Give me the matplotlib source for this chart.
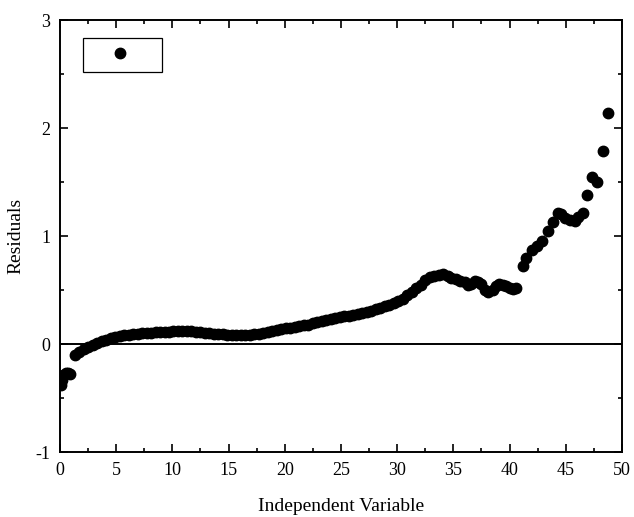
import matplotlib
matplotlib.use("Agg")
import matplotlib.pyplot as plt

plt.rcParams['font.family'] = ['Liberation Serif', 'DejaVu Serif']
plt.rcParams['axes.unicode_minus'] = False

# residuals
x = [0.05, 0.15, 0.3, 0.5, 0.7, 0.9,
     1.3, 1.7, 2.1, 2.5, 2.9, 3.3, 3.7, 4.1, 4.5, 4.9,
     5.3, 5.7, 6.1, 6.5, 6.9, 7.3, 7.7, 8.1, 8.5, 8.9,
     9.3, 9.7, 10.1, 10.5, 10.9, 11.3, 11.7, 12.1, 12.5, 12.9,
     13.3, 13.7, 14.1, 14.5, 14.9, 15.3, 15.7, 16.1, 16.5, 16.9,
     17.3, 17.7, 18.1, 18.5, 18.9, 19.3, 19.7, 20.1, 20.5, 20.9,
     21.3, 21.7, 22.1, 22.5, 22.9, 23.3, 23.7, 24.1, 24.5, 24.9,
     25.3, 25.7, 26.1, 26.5, 26.9, 27.3, 27.7, 28.1, 28.5, 28.9,
     29.3, 29.7, 30.1, 30.5, 30.9, 31.3, 31.7, 32.1, 32.5, 32.9,
     33.3, 33.7, 34.1, 34.5, 34.8, 35.2, 35.6, 36.0, 36.3, 36.6,
     36.9, 37.2, 37.5, 37.8, 38.1, 38.5, 38.8, 39.1, 39.4, 39.7,
     40.0, 40.3, 40.6,
     41.2, 41.5, 42.0, 42.4, 42.9, 43.4, 43.9, 44.3, 44.6, 44.9,
     45.4, 45.8, 46.1, 46.5, 46.9, 47.3, 47.8, 48.3, 48.8]
resid = [-0.38, -0.33, -0.29, -0.27, -0.27, -0.28,
         -0.10, -0.07, -0.05, -0.03, -0.01, 0.01, 0.025, 0.04, 0.055, 0.065,
         0.075, 0.08, 0.085, 0.09, 0.095, 0.10, 0.10, 0.105, 0.11, 0.11,
         0.115, 0.115, 0.12, 0.12, 0.12, 0.12, 0.12, 0.115, 0.11, 0.105,
         0.10, 0.095, 0.09, 0.09, 0.085, 0.085, 0.08, 0.08, 0.08, 0.085,
         0.09, 0.09, 0.10, 0.11, 0.12, 0.13, 0.14, 0.145, 0.15, 0.16,
         0.17, 0.175, 0.18, 0.19, 0.20, 0.21, 0.22, 0.23, 0.24, 0.25,
         0.255, 0.26, 0.27, 0.28, 0.29, 0.30, 0.31, 0.32, 0.335, 0.35,
         0.36, 0.38, 0.40, 0.42, 0.45, 0.48, 0.52, 0.55, 0.59, 0.62,
         0.63, 0.64, 0.65, 0.63, 0.61, 0.60, 0.58, 0.57, 0.55, 0.56,
         0.58, 0.57, 0.56, 0.50, 0.48, 0.50, 0.54, 0.56, 0.55, 0.54,
         0.52, 0.51, 0.52,
         0.72, 0.80, 0.87, 0.91, 0.95, 1.05, 1.13, 1.21, 1.20, 1.17,
         1.15, 1.14, 1.18, 1.21, 1.38, 1.55, 1.50, 1.79, 2.14]

xticks = [0, 5, 10, 15, 20, 25, 30, 35, 40, 45, 50]
yticks = [-1, 0, 1, 2, 3]

fig = plt.figure(figsize=(6.34, 5.17), dpi=100)
ax = fig.add_axes([0.0946, 0.1257, 0.8864, 0.8356])

ax.axhline(0, color='black', lw=1.4, zorder=1)
pts, = ax.plot(x, resid, 'o', color='black', markersize=7.5, zorder=2)

ax.set_xlim(0, 50)
ax.set_ylim(-1, 3)
ax.set_xticks(xticks)
ax.set_yticks(yticks)
ax.set_xticks([v + 2.5 for v in xticks[:-1]], minor=True)
ax.set_yticks([v + 0.5 for v in yticks[:-1]], minor=True)
ax.tick_params(which='both', direction='in', top=True, right=True,
               labelsize=13, width=1.2)
ax.tick_params(which='major', length=6, pad=7)
ax.tick_params(which='minor', length=3)
for s in ax.spines.values():
    s.set_linewidth(1.4)

ax.set_xlabel('Independent Variable', fontsize=14, labelpad=14)
ax.set_ylabel('Residuals', fontsize=14, labelpad=8)

leg = ax.legend([pts], [' '], loc='upper left', bbox_to_anchor=(0.041, 0.958),
                borderaxespad=0, fancybox=False, fontsize=12, handlelength=3.3,
                borderpad=0.55, handletextpad=0.1, framealpha=1)
leg.get_frame().set_edgecolor('black')
leg.get_frame().set_linewidth(0.9)

fig.savefig('out.png', dpi=100)
